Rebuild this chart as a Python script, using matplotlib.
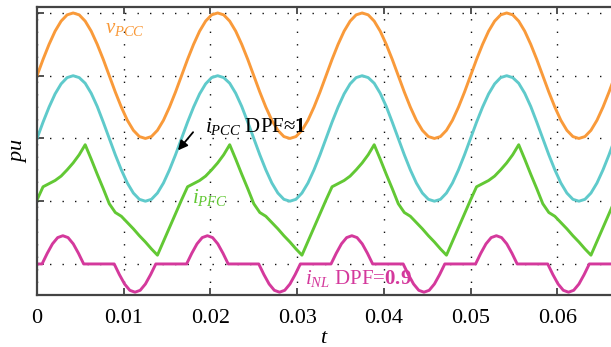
import numpy as np
import matplotlib
matplotlib.use('Agg')
import matplotlib.pyplot as plt

plt.rcParams['font.family'] = ['Liberation Serif', 'DejaVu Serif']
plt.rcParams['mathtext.fontset'] = 'custom'
plt.rcParams['mathtext.rm'] = 'Liberation Serif'
plt.rcParams['mathtext.it'] = 'Liberation Serif:italic'
plt.rcParams['mathtext.bf'] = 'Liberation Serif:bold'

# sample times (s), 24 samples per 60 Hz cycle
t = np.arange(97) / 1440.0

# curves, in pu with offsets as plotted
v_pcc = [
    3.00, 3.26, 3.50, 3.71, 3.87, 3.97, 4.00, 3.97, 3.87, 3.71, 3.50, 3.26,
    3.00, 2.74, 2.50, 2.29, 2.13, 2.03, 2.00, 2.03, 2.13, 2.29, 2.50, 2.74,
    3.00, 3.26, 3.50, 3.71, 3.87, 3.97, 4.00, 3.97, 3.87, 3.71, 3.50, 3.26,
    3.00, 2.74, 2.50, 2.29, 2.13, 2.03, 2.00, 2.03, 2.13, 2.29, 2.50, 2.74,
    3.00, 3.26, 3.50, 3.71, 3.87, 3.97, 4.00, 3.97, 3.87, 3.71, 3.50, 3.26,
    3.00, 2.74, 2.50, 2.29, 2.13, 2.03, 2.00, 2.03, 2.13, 2.29, 2.50, 2.74,
    3.00, 3.26, 3.50, 3.71, 3.87, 3.97, 4.00, 3.97, 3.87, 3.71, 3.50, 3.26,
    3.00, 2.74, 2.50, 2.29, 2.13, 2.03, 2.00, 2.03, 2.13, 2.29, 2.50, 2.74,
    3.00]

i_pcc = [
    2.00, 2.26, 2.50, 2.71, 2.87, 2.97, 3.00, 2.97, 2.88, 2.72, 2.51, 2.26,
    2.00, 1.74, 1.50, 1.29, 1.13, 1.03, 1.00, 1.03, 1.13, 1.29, 1.50, 1.74,
    2.00, 2.26, 2.50, 2.71, 2.87, 2.97, 3.00, 2.97, 2.88, 2.72, 2.51, 2.26,
    2.00, 1.74, 1.50, 1.29, 1.13, 1.03, 1.00, 1.03, 1.13, 1.29, 1.50, 1.74,
    2.00, 2.26, 2.50, 2.71, 2.87, 2.97, 3.00, 2.97, 2.88, 2.72, 2.51, 2.26,
    2.00, 1.74, 1.50, 1.29, 1.13, 1.03, 1.00, 1.03, 1.13, 1.29, 1.50, 1.74,
    2.00, 2.26, 2.50, 2.71, 2.87, 2.97, 3.00, 2.97, 2.88, 2.72, 2.51, 2.26,
    2.00, 1.74, 1.50, 1.29, 1.13, 1.03, 1.00, 1.03, 1.13, 1.29, 1.50, 1.74,
    2.00]

i_pfc = [
    1.02, 1.23, 1.28, 1.33, 1.40, 1.50, 1.61, 1.74, 1.90, 1.67, 1.43, 1.20,
    0.96, 0.82, 0.76, 0.66, 0.56, 0.45, 0.35, 0.24, 0.14, 0.36, 0.58, 0.80,
    1.02, 1.23, 1.28, 1.33, 1.40, 1.50, 1.61, 1.74, 1.90, 1.67, 1.43, 1.20,
    0.96, 0.82, 0.76, 0.66, 0.56, 0.45, 0.35, 0.24, 0.14, 0.36, 0.58, 0.80,
    1.02, 1.23, 1.28, 1.33, 1.40, 1.50, 1.61, 1.74, 1.90, 1.67, 1.43, 1.20,
    0.96, 0.82, 0.76, 0.66, 0.56, 0.45, 0.35, 0.24, 0.14, 0.36, 0.58, 0.80,
    1.02, 1.23, 1.28, 1.33, 1.40, 1.50, 1.61, 1.74, 1.90, 1.67, 1.43, 1.20,
    0.96, 0.82, 0.76, 0.66, 0.56, 0.45, 0.35, 0.24, 0.14, 0.36, 0.58, 0.80,
    1.02]

# nonlinear load current: own time points (ms)
i_nl_t_ms = [
    0.00,
    0.58, 1.18, 1.78, 2.38, 2.98, 3.58, 4.18, 4.78, 5.38,
    8.90, 9.50, 10.10, 10.70, 11.30, 11.90, 12.50, 13.10, 13.70,
    17.25, 17.85, 18.45, 19.05, 19.65, 20.25, 20.85, 21.45, 22.05,
    25.57, 26.17, 26.77, 27.37, 27.97, 28.57, 29.17, 29.77, 30.37,
    33.91, 34.51, 35.11, 35.71, 36.31, 36.91, 37.51, 38.11, 38.71,
    42.23, 42.83, 43.43, 44.03, 44.63, 45.23, 45.83, 46.43, 47.03,
    50.58, 51.18, 51.78, 52.38, 52.98, 53.58, 54.18, 54.78, 55.38,
    58.90, 59.50, 60.10, 60.70, 61.30, 61.90, 62.50, 63.10, 63.70,
    66.70]
i_nl = [
    0.00,
    0.00, 0.17, 0.32, 0.42, 0.45, 0.42, 0.32, 0.17, 0.00,
    0.00, -0.17, -0.32, -0.42, -0.45, -0.42, -0.32, -0.17, 0.00,
    0.00, 0.17, 0.32, 0.42, 0.45, 0.42, 0.32, 0.17, 0.00,
    0.00, -0.17, -0.32, -0.42, -0.45, -0.42, -0.32, -0.17, 0.00,
    0.00, 0.17, 0.32, 0.42, 0.45, 0.42, 0.32, 0.17, 0.00,
    0.00, -0.17, -0.32, -0.42, -0.45, -0.42, -0.32, -0.17, 0.00,
    0.00, 0.17, 0.32, 0.42, 0.45, 0.42, 0.32, 0.17, 0.00,
    0.00, -0.17, -0.32, -0.42, -0.45, -0.42, -0.32, -0.17, 0.00,
    0.00]

x_ticks = [0, 0.01, 0.02, 0.03, 0.04, 0.05, 0.06]
x_tick_labels = ['0', '0.01', '0.02', '0.03', '0.04', '0.05', '0.06']
y_ticks = [0, 1, 2, 3, 4]

c_v = '#F99A3A'
c_ipcc = '#5FCACB'
c_pfc = '#62C834'
c_nl = '#D4399C'

fig = plt.figure(figsize=(6.11, 3.47), dpi=100)
ax = fig.add_axes([0.0606, 0.150, 0.9394, 0.830])

ax.plot(t, v_pcc, color=c_v, lw=2.1)
ax.plot(t, i_pcc, color=c_ipcc, lw=2.1)
ax.plot(t, i_pfc, color=c_pfc, lw=2.1)
ax.plot(np.array(i_nl_t_ms) / 1000.0, i_nl, color=c_nl, lw=2.1)

ax.set_xlim(0, 0.0662)
ax.set_ylim(-0.494, 4.096)
ax.set_xticks(x_ticks)
ax.set_xticklabels(x_tick_labels)
ax.set_yticks(y_ticks)
ax.set_yticklabels([])
ax.grid(True, color='#111111', lw=1.0, linestyle=(0, (1, 8)))
ax.tick_params(direction='in', length=5, width=1.2, colors='#333333',
               labelsize=16, labelcolor='black', pad=10, top=True)
for s in ['left', 'bottom', 'top']:
    ax.spines[s].set_linewidth(1.6)
    ax.spines[s].set_color('#444444')
ax.spines['right'].set_visible(False)

ax.set_xlabel('$t$', fontsize=16, labelpad=1)
ax.set_ylabel('$pu$', fontsize=16, labelpad=-4)

ax.text(0.00784, 3.68, '$v_{PCC}$', color=c_v, fontsize=15)
ax.text(0.0194, 2.10, '$i_{PCC}$ DPF≈$\\mathbf{1}$', color='black', fontsize=15)
ax.annotate('', xy=(0.01626, 1.81), xytext=(0.0180, 2.10),
            arrowprops=dict(arrowstyle='-|>', color='black', lw=1.3,
                            mutation_scale=14, shrinkA=0, shrinkB=0))
ax.text(0.01788, 0.97, '$i_{PFC}$', color=c_pfc, fontsize=15)
ax.text(0.0309, -0.32, '$i_{NL}$ DPF=$\\mathbf{0.9}$', color=c_nl, fontsize=15)

fig.savefig('out.png', dpi=100)
